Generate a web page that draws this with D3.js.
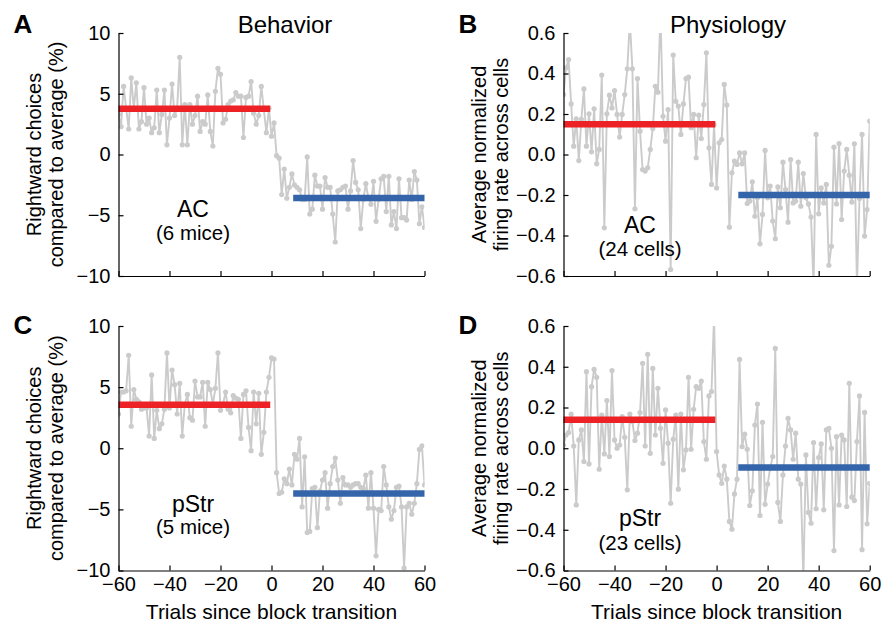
<!DOCTYPE html>
<html><head><meta charset="utf-8">
<script src="https://cdn.jsdelivr.net/npm/d3@7"></script>
<style>
body{margin:0;background:#fff;}
svg{display:block;font-family:"Liberation Sans",Arial,Helvetica,sans-serif;}
</style></head><body>
<svg id="chart" width="882" height="625"></svg>
<script>
// ---------------- DATA ----------------
const trials = d3.range(-60, 61);                 // trial index since block transition
const trialTicks = [-60, -40, -20, 0, 20, 40, 60];
const behaviorTicks = [-10, -5, 0, 5, 10];
const physiologyTicks = [-0.6, -0.4, -0.2, 0, 0.2, 0.4, 0.6];
const preBlock = [-60, -0.5];                      // extent of the pre-transition mean
const postBlock = [8.5, 60];                       // extent of the post-transition mean

// Panel A: AC behavior (%), trials -60..60
const behaviorAC = [
  3.3,2.3,5.6,3.8,2.1,6.3,3.8,5.9,2.1,2.7, 5.5,2.5,3.0,1.8,2.2,5.3,1.8,3.3,5.3,0.8,
  3.0,5.8,3.2,3.8,8.0,0.8,4.1,0.8,4.1,2.5, 3.2,4.8,1.9,2.7,2.5,4.9,1.9,0.7,5.2,7.1,
  6.6,2.6,2.9,4.1,4.4,4.5,5.1,4.8,4.8,1.4, 4.7,4.8,6.0,3.4,2.5,3.2,5.6,3.7,1.8,3.8,
  1.5,2.6,-0.1,-0.3,-3.3,-1.2,-3.6,-2.7,-1.6,-2.5, -2.7,-2.9,-3.7,-3.7,-0.2,-4.9,-4.5,-1.7,-2.6,-2.6,
  -4.5,-1.9,-2.7,-2.7,-4.9,-7.2,-3.0,-2.9,-2.7,-2.6, -4.5,-3.0,-0.5,-2.3,-2.9,-6.1,-3.7,-2.4,-3.6,-4.1,
  -2.2,-5.5,-3.7,-2.0,-1.8,-4.7,-1.8,-5.8,-4.7,-6.1, -2.0,-5.2,-5.2,-5.4,-2.1,-3.7,-1.4,-2.1,-5.7,-4.3,
  -6.0
];
const behaviorACMeans = [3.76, -3.57];

// Panel B: AC physiology (normalized firing rate)
const physiologyAC = [
  0.296,0.428,0.469,0.25,0.041,0.176,-0.03,0.173,0.324,0.041, 0.201,0.013,0.226,-0.046,0.025,0.392,-0.362,0.201,0.293,0.23,
  0.316,0.198,0.086,0.198,0.296,0.423,0.66,0.423,-0.268,0.375, 0.115,-0.074,-0.082,-0.066,0.025,0.128,0.337,0.308,0.7,0.189,
  0.066,0.222,-0.568,0.491,0.263,0.239,0.099,0.25,0.375,0.382, 0.132,0.198,-0.016,0.194,0.079,0.247,0.502,0.033,-0.148,0.148,
  -0.165,0.058,0.074,0.346,0.244,-0.359,-0.09,-0.033,-0.049,0.008, -0.046,0.008,-0.242,-0.23,-0.135,-0.305,-0.214,-0.441,-0.296,0.02,
  -0.214,-0.156,-0.329,-0.416,-0.16,-0.263,-0.038,-0.173,-0.334,-0.025, -0.239,-0.23,-0.038,-0.255,-0.094,-0.214,-0.244,-0.309,-0.65,0.099,
  -0.293,-0.165,-0.239,-0.148,-0.547,-0.453,0.036,-0.244,0.054,-0.321, -0.082,0.025,-0.102,-0.235,0.053,-0.65,-0.217,0.099,-0.403,-0.272,
  0.165
];
const physiologyACMeans = [0.15, -0.2];

// Panel C: pStr behavior (%)
const behaviorPStr = [
  2.8,4.6,4.6,4.7,7.6,1.8,4.8,4.0,3.8,3.2, 3.3,3.3,1.0,6.0,0.8,3.1,1.6,2.0,3.2,7.8,
  3.3,6.4,5.2,2.8,5.3,1.0,3.6,4.4,2.5,2.3, 5.5,4.2,4.2,5.4,1.8,5.4,4.8,3.6,4.9,7.8,
  3.1,3.6,4.6,3.2,2.9,4.3,4.1,4.0,0.8,4.4, 4.7,1.7,-0.2,4.6,2.0,4.5,-0.5,1.3,4.6,5.8,
  7.4,7.3,-2.0,-3.7,-3.6,-2.5,-2.9,-1.7,-3.0,-0.5, -0.9,0.8,-4.8,-0.7,-6.9,-6.8,-3.3,-3.2,-6.5,-3.5,
  -2.6,-2.0,-4.9,-2.9,-1.5,-0.8,-2.6,-4.5,-2.4,-3.0, -3.0,-3.2,-3.0,-2.9,-2.9,-3.2,-3.3,-2.2,-4.9,-2.0,
  -4.9,-8.8,-5.0,-5.1,-1.5,-3.0,-4.8,-5.8,-5.1,-3.2, -3.1,-4.8,-9.8,-4.8,-4.5,-5.4,-4.5,-2.9,-0.1,0.2,
  -3.0
];
const behaviorPStrMeans = [3.56, -3.7];

// Panel D: pStr physiology
const physiologyPStr = [
  0.016,0.065,0.077,0.167,0.011,-0.278,0.041,0.09,-0.065,0.376, -0.077,0.302,0.387,0.348,-0.103,0.163,-0.028,0.234,-0.041,0.381,
  0.041,0.0,0.016,0.155,0.054,-0.204,0.168,0.131,0.038,0.074, 0.175,0.417,0.011,0.461,-0.025,0.392,0.065,0.294,0.098,-0.074,
  0.188,0.025,-0.27,0.044,0.163,-0.201,0.168,-0.106,-0.008,0.348, -0.005,0.191,0.302,0.294,0.33,0.033,-0.054,0.257,0.278,0.65,
  -0.016,-0.131,-0.172,-0.087,-0.152,-0.359,-0.397,-0.224,-0.152,0.436, 0.008,0.069,-0.005,-0.281,-0.209,0.114,0.217,-0.33,0.127,-0.275,
  -0.176,-0.098,-0.041,0.49,-0.266,-0.359,-0.131,0.011,0.147,0.09, -0.054,0.074,-0.152,-0.176,-0.65,-0.033,-0.315,-0.368,0.028,-0.297,
  -0.046,0.021,-0.302,0.09,0.098,0.0,-0.502,0.057,-0.278,0.065, 0.041,-0.286,0.319,-0.24,-0.257,0.033,0.257,-0.498,0.176,-0.371,
  -0.172
];
const physiologyPStrMeans = [0.14, -0.095];

// ---------------- DRAW ----------------
const svg = d3.select('#chart');
const GRAY = '#cbcbcb', RED = '#ec2227', BLUE = '#3464a9';
const FS = 20;

const panels = [
  {id:'A', values: behaviorAC, means: behaviorACMeans, domain:[-10,10], ticks: behaviorTicks, fmt: d3.format('d'),
   x0:118.5, x1:424.5, y0:33, y1:276, xlabels:false, name:'AC', sub:'(6 mice)', nx:193, ny:217, sy:240},
  {id:'B', values: physiologyAC, means: physiologyACMeans, domain:[-0.6,0.6], ticks: physiologyTicks, fmt: d3.format('.1f'),
   x0:563.5, x1:869.7, y0:33, y1:276, xlabels:false, name:'AC', sub:'(24 cells)', nx:640, ny:233, sy:256},
  {id:'C', values: behaviorPStr, means: behaviorPStrMeans, domain:[-10,10], ticks: behaviorTicks, fmt: d3.format('d'),
   x0:118.5, x1:424.5, y0:326, y1:570.5, xlabels:true, name:'pStr', sub:'(5 mice)', nx:193, ny:512, sy:534},
  {id:'D', values: physiologyPStr, means: physiologyPStrMeans, domain:[-0.6,0.6], ticks: physiologyTicks, fmt: d3.format('.1f'),
   x0:563.5, x1:869.7, y0:326, y1:570.5, xlabels:true, name:'pStr', sub:'(23 cells)', nx:640, ny:526, sy:550}
];

panels.forEach((p, i) => {
  const x = d3.scaleLinear().domain([-60, 60]).range([p.x0, p.x1]);
  const y = d3.scaleLinear().domain(p.domain).range([p.y1, p.y0]);
  const data = trials.map((t, k) => ({t, v: p.values[k]}));

  const clipId = 'clip' + p.id;
  svg.append('clipPath').attr('id', clipId).append('rect')
    .attr('x', p.x0).attr('y', p.y0).attr('width', p.x1 - p.x0).attr('height', p.y1 - p.y0);

  const g = svg.append('g').attr('clip-path', `url(#${clipId})`);
  g.append('path').datum(data)
    .attr('fill', 'none').attr('stroke', GRAY).attr('stroke-width', 1.9).attr('stroke-linejoin', 'round')
    .attr('d', d3.line().x(d => x(d.t)).y(d => y(d.v)));
  g.selectAll('circle').data(data).join('circle')
    .attr('cx', d => x(d.t)).attr('cy', d => y(d.v)).attr('r', 2.6).attr('fill', GRAY);

  // mean lines
  const segs = [{ext: preBlock, v: p.means[0], c: RED}, {ext: postBlock, v: p.means[1], c: BLUE}];
  svg.append('g').selectAll('line').data(segs).join('line')
    .attr('x1', d => x(d.ext[0])).attr('x2', d => x(d.ext[1]))
    .attr('y1', d => y(d.v)).attr('y2', d => y(d.v))
    .attr('stroke', d => d.c).attr('stroke-width', 6.5);

  // axes
  const ay = svg.append('g').attr('transform', `translate(${p.x0},0)`)
    .call(d3.axisLeft(y).tickValues(p.ticks).tickFormat(p.fmt).tickSizeInner(-5).tickSizeOuter(0).tickPadding(8));
  const ax = svg.append('g').attr('transform', `translate(0,${p.y1})`)
    .call(d3.axisBottom(x).tickValues(trialTicks).tickFormat(p.xlabels ? d3.format('d') : () => '')
      .tickSizeInner(-5).tickSizeOuter(0).tickPadding(6));
  [ay, ax].forEach(a => {
    a.selectAll('path,line').attr('stroke', '#000').attr('stroke-width', 1.2);
    a.selectAll('text').attr('font-size', FS).attr('fill', '#000').attr('font-family', null);
  });

  // annotation
  svg.append('text').attr('x', p.nx).attr('y', p.ny).attr('text-anchor', 'middle')
    .attr('font-size', 23).text(p.name);
  svg.append('text').attr('x', p.nx).attr('y', p.sy).attr('text-anchor', 'middle')
    .attr('font-size', 20.5).text(p.sub);

  // panel letter
  svg.append('text').attr('x', p.x0 - 105).attr('y', p.y0 + (i < 2 ? 0 : 8))
    .attr('font-size', 26).attr('font-weight', 'bold').text(p.id);

  // y titles
  const cy = (p.y0 + p.y1) / 2;
  const lines = p.domain[1] === 10
    ? ['Rightward choices', 'compared to average (%)']
    : ['Average normalized', 'firing rate across cells'];
  [p.x0 - 77.5, p.x0 - 55.5].forEach((bx, k) => {
    svg.append('text').attr('transform', `translate(${bx},${cy}) rotate(-90)`)
      .attr('text-anchor', 'middle').attr('font-size', 20).text(lines[k]);
  });

  if (p.xlabels) {
    svg.append('text').attr('x', (p.x0 + p.x1) / 2).attr('y', 619).attr('text-anchor', 'middle')
      .attr('font-size', 21).text('Trials since block transition');
  }
});

svg.append('text').attr('x', 285).attr('y', 33).attr('text-anchor', 'middle').attr('font-size', 24).text('Behavior');
svg.append('text').attr('x', 728).attr('y', 33).attr('text-anchor', 'middle').attr('font-size', 24).text('Physiology');
</script>
</body></html>
